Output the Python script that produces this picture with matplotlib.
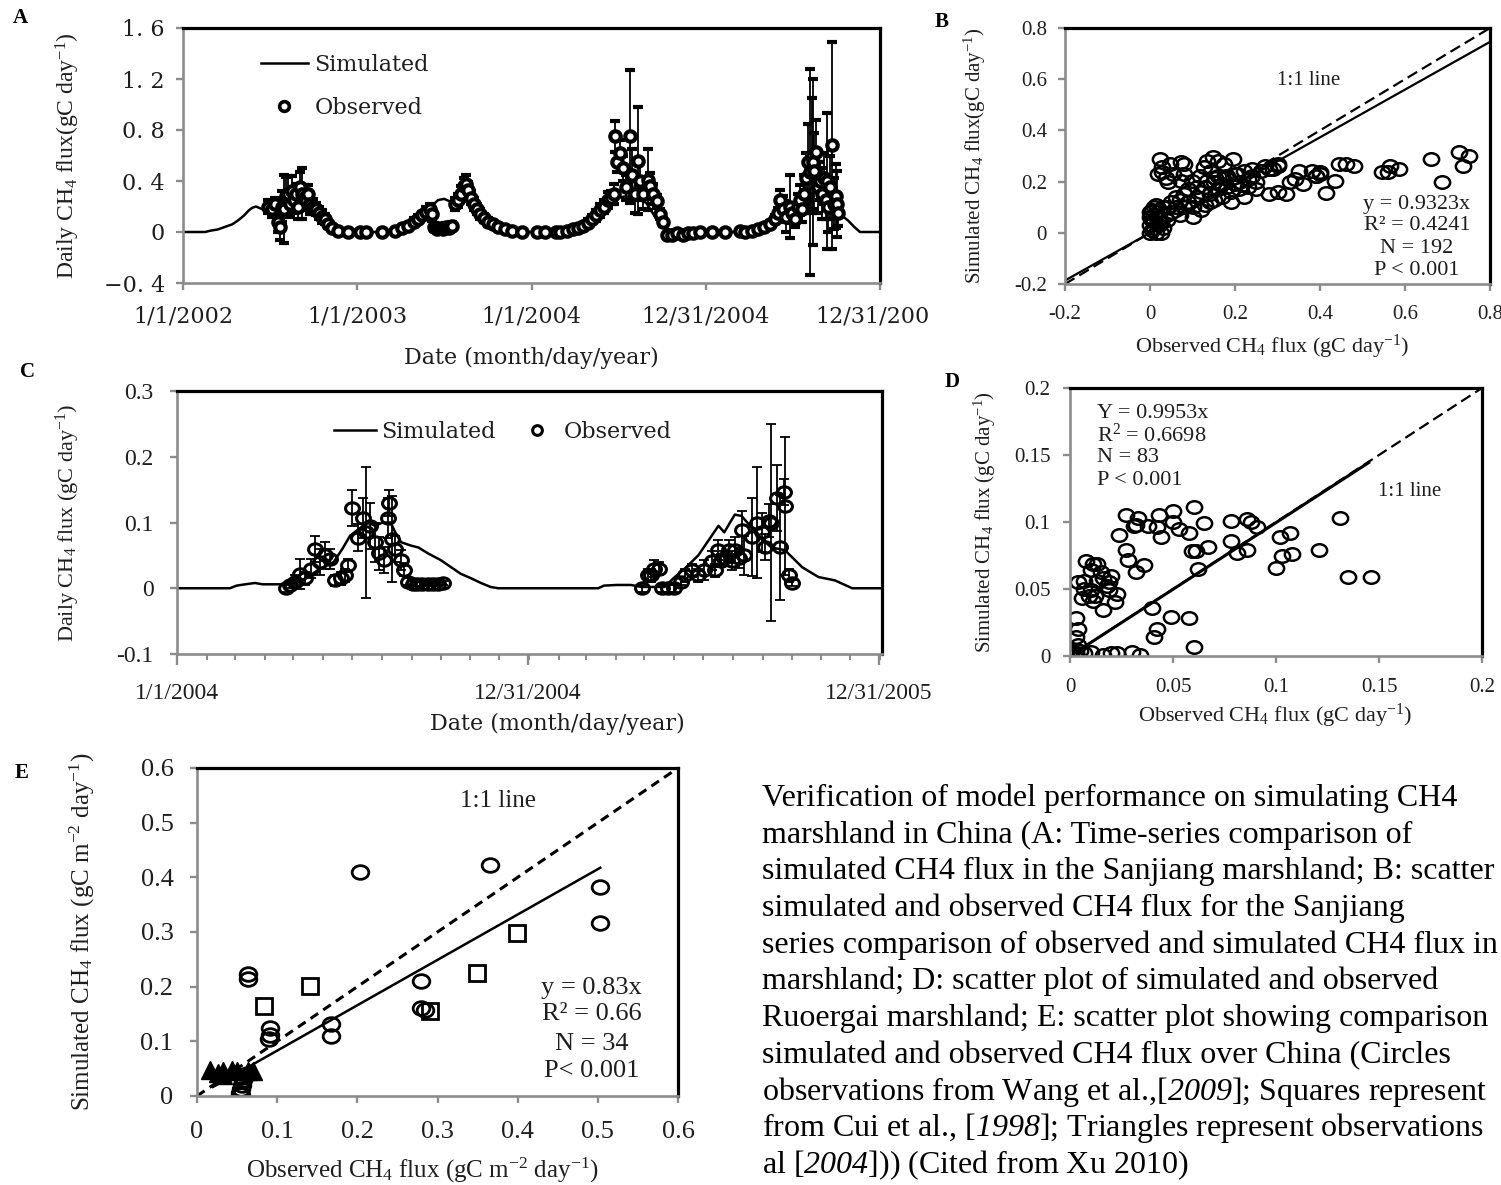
import numpy as np
import matplotlib
matplotlib.use("Agg")
import matplotlib.pyplot as plt
import matplotlib.dates as mdates
from matplotlib.lines import Line2D
from matplotlib.path import Path
from matplotlib.transforms import Bbox

plt.rcParams["font.family"] = "Liberation Serif"
plt.rcParams["mathtext.fontset"] = "custom"
plt.rcParams["mathtext.rm"] = "Liberation Serif"
plt.rcParams["mathtext.it"] = "Liberation Serif:italic"
plt.rcParams["mathtext.bf"] = "Liberation Serif:bold"
plt.rcParams["mathtext.sf"] = "Liberation Serif:italic"

# ---------------- data ----------------
# A: Sanjiang marshland, days since 2002-01-01
sim_a_day = [0, 46, 57, 73, 88, 103, 115, 128, 138, 145, 153, 165, 178, 193, 209, 224, 239, 251, 266, 279,
             291, 304, 314, 325,
             434, 450, 467, 484, 501, 513, 526, 534, 547, 559, 572, 584, 597, 610, 622, 635, 647, 664, 681, 698,
             790, 811, 827, 844, 861, 873, 886, 899, 911, 928, 945, 957, 970, 982, 995, 1008, 1020, 1049, 1062,
             1167, 1188, 1209, 1230, 1246, 1261, 1276, 1288, 1305, 1318, 1330, 1343, 1355, 1368, 1380, 1393,
             1406, 1418, 1460]
sim_a_val = [0, 0, 0.01, 0.02, 0.04, 0.06, 0.09, 0.13, 0.17, 0.19, 0.2, 0.18, 0.2, 0.22, 0.24, 0.26, 0.27, 0.26,
             0.22, 0.17, 0.11, 0.05, 0.02, 0.0,
             0, 0.02, 0.05, 0.09, 0.13, 0.17, 0.22, 0.25, 0.26, 0.24, 0.26, 0.28, 0.25, 0.2, 0.14, 0.1, 0.07,
             0.04, 0.02, 0.0,
             0, 0.01, 0.03, 0.06, 0.1, 0.15, 0.2, 0.25, 0.27, 0.28, 0.27, 0.25, 0.23, 0.16, 0.08, 0.03, 0.02,
             0.02, 0.0,
             0, 0.01, 0.03, 0.06, 0.1, 0.16, 0.22, 0.26, 0.3, 0.35, 0.3, 0.26, 0.22, 0.17, 0.13, 0.09, 0.04,
             0.0, 0.0]

obs_a_day = [178, 186, 193, 199, 203, 207, 212, 216, 220, 224, 228, 233, 237, 241, 245, 249, 253, 258, 262, 266,
             272, 279, 285, 291, 297, 304, 312, 325, 346, 371, 383, 417,
             444, 459, 471, 484, 492, 501, 509, 517, 522, 526, 532, 538, 545, 551, 557, 563, 570, 576, 582, 589,
             593, 597, 603, 610, 616, 622, 631, 639, 649, 660, 674, 689, 710, 742, 758, 781, 790,
             804, 817, 827, 838, 848, 857, 865, 873, 882, 890, 897, 903, 905, 909, 915, 922, 928, 936, 940, 947,
             953, 957, 964, 974, 978, 984, 993, 999, 1005, 1014, 1024, 1035, 1047, 1058, 1068, 1083, 1108, 1135,
             1167, 1177, 1192, 1204, 1217, 1230, 1240, 1246, 1251, 1257, 1263, 1271, 1276, 1282, 1288, 1292,
             1297, 1301, 1305, 1309, 1313, 1318, 1320, 1322, 1326, 1330, 1334, 1339, 1343, 1347, 1349, 1351,
             1355, 1360, 1364, 1368, 1370, 1372]
obs_a_val = [0.2, 0.18, 0.22, 0.08, 0.04, 0.2, 0.18, 0.28, 0.3, 0.22, 0.32, 0.25, 0.3, 0.2, 0.35, 0.3, 0.27,
             0.25, 0.3, 0.22, 0.2, 0.18, 0.15, 0.12, 0.1, 0.06, 0.03, 0.01, 0, 0, 0, 0,
             0.01, 0.03, 0.05, 0.08, 0.1, 0.13, 0.16, 0.18, 0.14, 0.04, 0.02, 0.03, 0.02, 0.04, 0.03, 0.05,
             0.22, 0.25, 0.3, 0.36, 0.38, 0.33, 0.27, 0.22, 0.18, 0.14, 0.11, 0.08, 0.06, 0.04, 0.02, 0.01,
             0, 0, 0, 0, 0,
             0.01, 0.02, 0.03, 0.05, 0.07, 0.1, 0.13, 0.17, 0.2, 0.25, 0.27, 0.3, 0.75, 0.55, 0.62, 0.5, 0.35,
             0.75, 0.45, 0.3, 0.56, 0.4, 0.3, 0.41, 0.36, 0.3, 0.24, 0.14, 0.08, -0.02, -0.02, -0.01, -0.02,
             -0.01, -0.01, 0, 0, 0,
             0.005, 0.0, 0.01, 0.02, 0.04, 0.06, 0.1, 0.15, 0.25, 0.18, 0.12, 0.2, 0.15, 0.1, 0.2, 0.25, 0.18,
             0.3, 0.42, 0.55, 0.47, 0.6, 0.55, 0.48, 0.63, 0.35, 0.4, 0.3, 0.42, 0.25, 0.4, 0.2, 0.35, 0.68,
             0.22, 0.28, 0.22, 0.15]
obs_a_err = [0.05, 0.06, 0.05, 0.08, 0.1, 0.12, 0.27, 0.15, 0.14, 0.1, 0.12, 0.1, 0.08, 0.1, 0.12, 0.2, 0.1,
             0.08, 0.07, 0.08, 0.06, 0.05, 0.05, 0.05, 0.04, 0.03, 0.02, 0.01, 0.01, 0.01, 0.01, 0.01,
             0.01, 0.02, 0.02, 0.03, 0.03, 0.03, 0.04, 0.04, 0.05, 0.03, 0.02, 0.02, 0.02, 0.03, 0.02, 0.03,
             0.05, 0.05, 0.06, 0.06, 0.07, 0.06, 0.05, 0.05, 0.04, 0.04, 0.03, 0.03, 0.02, 0.02, 0.01, 0.01,
             0.01, 0.01, 0.01, 0.01, 0.01,
             0.01, 0.01, 0.02, 0.02, 0.03, 0.03, 0.04, 0.05, 0.05, 0.06, 0.05, 0.08, 0.12, 0.08, 0.1, 0.1, 0.1,
             0.52, 0.2, 0.15, 0.42, 0.15, 0.12, 0.24, 0.1, 0.08, 0.05, 0.04, 0.03, 0.01, 0.01, 0.01, 0.01,
             0.01, 0.01, 0.01, 0.01, 0.01,
             0.01, 0.01, 0.01, 0.02, 0.02, 0.03, 0.03, 0.04, 0.08, 0.1, 0.12, 0.25, 0.08, 0.06, 0.1, 0.12, 0.1,
             0.15, 0.2, 0.3, 0.81, 0.45, 0.65, 0.3, 0.25, 0.2, 0.15, 0.2, 0.2, 0.15, 0.53, 0.2, 0.25, 0.81,
             0.2, 0.25, 0.26, 0.1]
a_tick_days = [0, 365, 730, 1095, 1460]
a_tick_labels = ["1/1/2002", "1/1/2003", "1/1/2004", "12/31/2004", "12/31/2005"]
a_y_ticks = [-0.4, 0, 0.4, 0.8, 1.2, 1.6]
a_y_labels = ["\u22120. 4", "0", "0. 4", "0. 8", "1. 2", "1. 6"]

# B: Sanjiang scatter
obs_b = [0.024, 0.046, 0.073, 0.081, 0.028, 0.019, 0.037, 0.055, 0.081, 0.042, 0.073, 0.028, 0.135, 0.148,
         0.161, 0.174, 0.126, 0.143, 0.117, 0.135, 0.099, 0.196, 0.205, 0.179, 0.152,
         0.0, 0.005, 0.01, 0.0, 0.005, 0.01, 0.0, 0.005, 0.01, 0.015, 0.02, 0.025, 0.015, 0.025, 0.03, 0.0,
         0.02, 0.03, 0.01, 0.02,
         0.04, 0.05, 0.05, 0.06, 0.07, 0.08, 0.08, 0.09, 0.1, 0.1, 0.11, 0.12, 0.12, 0.13, 0.14, 0.14, 0.15,
         0.16, 0.17, 0.17, 0.18, 0.19, 0.19, 0.2, 0.2, 0.21, 0.21, 0.22, 0.22, 0.23, 0.23, 0.24, 0.24, 0.25,
         0.26, 0.27, 0.28, 0.29, 0.3, 0.28, 0.3, 0.32, 0.3, 0.33, 0.34, 0.35, 0.36, 0.39, 0.4, 0.38, 0.06,
         0.09, 0.11, 0.16, 0.13, 0.15, 0.18, 0.25, 0.07, 0.04,
         0.444, 0.435, 0.413, 0.462, 0.48, 0.546, 0.564, 0.586, 0.661, 0.688, 0.727, 0.736, 0.75, 0.56,
         0.391, 0.4]
sim_b = [0.288, 0.269, 0.275, 0.269, 0.236, 0.229, 0.216, 0.229, 0.229, 0.197, 0.203, 0.256, 0.282, 0.295,
         0.282, 0.269, 0.256, 0.242, 0.223, 0.203, 0.203, 0.288, 0.229, 0.216, 0.216,
         0.0, 0.01, 0.02, 0.03, 0.05, 0.07, 0.08, 0.09, 0.1, 0.11, 0.06, 0.04, 0.0, 0.0, 0.02, 0.06, 0.09,
         0.1, 0.045, 0.03,
         0.05, 0.08, 0.12, 0.1, 0.13, 0.1, 0.15, 0.12, 0.06, 0.1, 0.14, 0.16, 0.09, 0.18, 0.12, 0.15, 0.2,
         0.17, 0.14, 0.19, 0.22, 0.16, 0.12, 0.19, 0.23, 0.2, 0.17, 0.24, 0.14, 0.21, 0.18, 0.22, 0.25, 0.2,
         0.24, 0.26, 0.25, 0.25, 0.26, 0.15, 0.16, 0.15, 0.27, 0.2, 0.21, 0.24, 0.19, 0.22, 0.23, 0.24, 0.14,
         0.17, 0.18, 0.22, 0.11, 0.13, 0.18, 0.17, 0.07, 0.1,
         0.269, 0.203, 0.157, 0.269, 0.262, 0.236, 0.262, 0.249, 0.288, 0.197, 0.315, 0.262, 0.301, 0.236,
         0.223, 0.236]
slope_b = 0.9323

# C: Ruoergai marshland, days since 2004-01-01
sim_c_day = [0, 55, 62, 71, 81, 89, 107, 118, 128, 139, 149, 163, 172, 180, 189, 198, 206, 214, 222, 227,
             233, 243, 251, 261, 274, 285, 295, 306, 316, 326, 334, 438, 444, 457, 472, 483, 507, 516, 528, 542,
             556, 563, 569, 575, 580, 587, 597, 608, 618, 632, 641, 650, 667, 684, 699, 702, 731]
sim_c_val = [0, 0, 0.004, 0.006, 0.008, 0.006, 0.006, 0.006, 0.01, 0.02, 0.03, 0.04, 0.06, 0.08, 0.09, 0.1,
             0.095, 0.1, 0.1, 0.085, 0.07, 0.065, 0.062, 0.053, 0.043, 0.032, 0.022, 0.015, 0.008, 0.002, 0,
             0, 0.004, 0.005, 0.005, 0.002, 0.002, 0.015, 0.03, 0.05, 0.08, 0.095, 0.085, 0.1, 0.112, 0.11,
             0.093, 0.075, 0.062, 0.058, 0.045, 0.032, 0.017, 0.012, 0.002, 0, 0]
obs_c_day = [113, 118, 123, 128, 133, 139, 144, 149, 154, 159, 164, 170, 175, 178, 182, 188, 193, 196, 201,
             206, 210, 215, 219, 220, 224, 227, 233, 236, 240, 245, 250, 255, 261, 266, 271, 277,
             483, 490, 493, 496, 501, 504, 511, 517, 524, 528, 535, 542, 548, 556, 559, 563, 566, 569, 574,
             577, 580, 584, 587, 590, 598, 603, 608, 611, 616, 618, 624, 627, 631, 632, 636, 639]
obs_c_val = [0.0, 0.005, 0.01, 0.022, 0.015, 0.03, 0.06, 0.04, 0.05, 0.045, 0.012, 0.015, 0.02, 0.035, 0.122,
             0.077, 0.107, 0.085, 0.095, 0.07, 0.053, 0.043, 0.107, 0.13, 0.075, 0.06, 0.043, 0.028, 0.01,
             0.007, 0.007, 0.006, 0.007, 0.006, 0.007, 0.008,
             0.0, 0.02, 0.02, 0.03, 0.03, 0.0, 0.0, 0.0, 0.01, 0.02, 0.027, 0.02, 0.028, 0.042, 0.027, 0.058,
             0.042, 0.046, 0.058, 0.042, 0.058, 0.046, 0.088, 0.05, 0.078, 0.1, 0.085, 0.063, 0.103, 0.1,
             0.137, 0.062, 0.146, 0.125, 0.02, 0.008]
obs_c_err = [0.005, 0.005, 0.01, 0.023, 0.01, 0.015, 0.02, 0.02, 0.02, 0.015, 0.008, 0.01, 0.01, 0.01, 0.027,
             0.02, 0.03, 0.1, 0.035, 0.03, 0.025, 0.02, 0.03, 0.02, 0.065, 0.02, 0.015, 0.01, 0.005, 0.004,
             0.003, 0.003, 0.003, 0.003, 0.003, 0.003,
             0.005, 0.01, 0.01, 0.013, 0.01, 0.005, 0.005, 0.005, 0.005, 0.01, 0.01, 0.01, 0.015, 0.015, 0.01,
             0.015, 0.01, 0.01, 0.015, 0.015, 0.02, 0.015, 0.03, 0.03, 0.06, 0.085, 0.03, 0.02, 0.025, 0.15,
             0.05, 0.08, 0.02, 0.105, 0.01, 0.005]
c_tick_days = [0, 365, 730]
c_tick_labels = ["1/1/2004", "12/31/2004", "12/31/2005"]

# D: Ruoergai scatter
obs_d = [0.027, 0.032, 0.038, 0.043, 0.042, 0.05, 0.05, 0.053, 0.058, 0.06, 0.059, 0.061, 0.065, 0.067,
         0.078, 0.078, 0.081, 0.086, 0.088, 0.091, 0.086, 0.1, 0.103, 0.102, 0.107, 0.108, 0.121, 0.131,
         0.135, 0.146, 0.024, 0.027, 0.028, 0.032, 0.036, 0.015, 0.019, 0.023, 0.019, 0.016, 0.013, 0.01,
         0.008, 0.011, 0.007, 0.004, 0.006, 0.011, 0.016, 0.003, 0.004, 0.003, 0.009, 0.01, 0.044, 0.04,
         0.041, 0.042, 0.049, 0.058, 0.06, 0.001, 0.003, 0.005, 0.007, 0.01, 0.016, 0.02, 0.023, 0.03,
         0.034, 0.002, 0.0, 0.013, 0.018, 0.012, 0.031, 0.02, 0.007, 0.033, 0.022, 0.004, 0.062]
sim_d = [0.105, 0.098, 0.097, 0.105, 0.096, 0.108, 0.1, 0.095, 0.092, 0.111, 0.078, 0.078, 0.099, 0.081,
         0.101, 0.086, 0.077, 0.102, 0.1, 0.096, 0.079, 0.066, 0.075, 0.089, 0.092, 0.076, 0.079, 0.103,
         0.059, 0.059, 0.09, 0.079, 0.072, 0.063, 0.068, 0.063, 0.055, 0.046, 0.049, 0.058, 0.056, 0.049,
         0.071, 0.069, 0.056, 0.055, 0.043, 0.041, 0.034, 0.028, 0.02, 0.014, 0.045, 0.064, 0.089, 0.036,
         0.014, 0.02, 0.029, 0.028, 0.007, 0.004, 0.002, 0.004, 0.002, 0.003, 0.001, 0.002, 0.002, 0.003,
         0.001, 0.001, 0.003, 0.069, 0.052, 0.045, 0.097, 0.06, 0.05, 0.103, 0.04, 0.008, 0.065]
slope_d = 0.9953

# E: China sites
wang_obs = [0.064, 0.064, 0.091, 0.091, 0.167, 0.167, 0.203, 0.28, 0.28, 0.365, 0.503, 0.503, 0.056, 0.056,
            0.055, 0.054, 0.055, 0.058, 0.062, 0.09, 0.285]
wang_sim = [0.224, 0.214, 0.124, 0.112, 0.132, 0.11, 0.409, 0.211, 0.161, 0.422, 0.382, 0.317, 0.035, 0.02,
            0.012, 0.006, 0.002, 0.03, 0.04, 0.105, 0.158]
cui_obs = [0.084, 0.141, 0.291, 0.349, 0.399]
cui_sim = [0.164, 0.201, 0.156, 0.225, 0.298]
ding_obs = [0.016, 0.026, 0.033, 0.044, 0.05, 0.064, 0.07, 0.033]
ding_sim = [0.048, 0.042, 0.045, 0.048, 0.045, 0.046, 0.045, 0.038]
slope_e = 0.83

caption_lines = [
    "Verification of model performance on simulating CH4",
    "marshland in China (A: Time-series comparison of",
    "simulated CH4 flux in the Sanjiang marshland; B: scatter",
    "simulated and observed CH4 flux for the Sanjiang",
    "series comparison of observed and simulated CH4 flux in",
    "marshland; D: scatter plot of simulated and observed",
    "Ruoergai marshland; E: scatter plot showing comparison",
    "simulated and observed CH4 flux over China (Circles",
    r"observations from Wang et al.,[$\mathsf{2009}$]; Squares represent",
    r"from Cui et al., [$\mathsf{1998}$]; Triangles represent observations",
    r"al [$\mathsf{2004}$])) (Cited from Xu 2010)",
]

# ---------------- layout helpers ----------------
W, H = 1501, 1185
fig = plt.figure(figsize=(W / 100, H / 100), dpi=100)
GRAY = "#8c8c8c"
TXT = "#1e1e1e"
WIDE = "DejaVu Serif"


def rect(left, right, top, bottom):
    return [left / W, 1 - bottom / H, (right - left) / W, (bottom - top) / H]


def style(ax, size, xpad, ypad, family=None):
    for s in ("left", "bottom"):
        ax.spines[s].set_color(GRAY)
        ax.spines[s].set_linewidth(1.9)
    for s in ("top", "right"):
        ax.spines[s].set_color("black")
        ax.spines[s].set_linewidth(2.3)
    ax.tick_params(which="major", direction="out", length=5, width=1.7, color=GRAY,
                   labelsize=size, labelcolor=TXT)
    ax.tick_params(axis="x", pad=xpad)
    ax.tick_params(axis="y", pad=ypad)
    if family:
        for lb in ax.get_xticklabels() + ax.get_yticklabels():
            lb.set_family(family)


circ = Path.unit_circle()
wide_circle = Path(circ.vertices * np.array([1.22, 1.0]), circ.codes)

# ---------------- A ----------------
base_a = np.datetime64("2002-01-01")
axA = fig.add_axes(rect(183, 880, 28, 283))
dA = base_a + np.array(sim_a_day, dtype="timedelta64[D]")
axA.plot(dA, sim_a_val, color="black", lw=1.8, zorder=2)
dAo = base_a + np.array(obs_a_day, dtype="timedelta64[D]")
axA.errorbar(dAo, obs_a_val, yerr=obs_a_err, fmt="o", ms=7.5, mfc="white", mec="black", mew=3.0,
             ecolor="black", elinewidth=1.3, capsize=3.5, capthick=1.3, zorder=3)
axA.set_xlim(base_a, base_a + np.timedelta64(1460, "D"))
axA.set_ylim(-0.4, 1.6)
axA.set_xticks(base_a + np.array(a_tick_days, dtype="timedelta64[D]"))
axA.set_xticklabels(a_tick_labels)
axA.set_yticks(a_y_ticks)
axA.set_yticklabels(a_y_labels)
style(axA, 16, 11, 8, family=WIDE)
axA.set_ylabel(r"Daily CH$_4$ flux(gC day$^{\mathrm{-1}}$)", fontsize=17, color=TXT)
axA.yaxis.set_label_coords(-0.165, 0.5)
axA.yaxis.label.set_va("center")
axA.set_xlabel("Date (month/day/year)", fontsize=16, family=WIDE, color=TXT)
axA.xaxis.set_label_coords(0.5, -0.294)
axA.xaxis.label.set_va("center")
hA = [Line2D([], [], color="black", lw=1.8),
      Line2D([], [], ls="none", marker="o", ms=7, mfc="white", mec="black", mew=2.6)]
axA.legend(hA, ["Simulated", "Observed"], loc="upper left", bbox_to_anchor=(0.112, 0.898), frameon=False,
           prop={"family": WIDE, "size": 16}, handlelength=2.1, handletextpad=0.3, labelspacing=0.95,
           borderaxespad=0, borderpad=0, labelcolor=TXT)
last = axA.get_xticklabels()[-1]
last.set_clip_on(True)
last.set_clip_box(Bbox.from_extents(0, 0, 930, H))

# ---------------- B ----------------
axB = fig.add_axes(rect(1065, 1490, 28, 284))
lineB = np.array([-0.2, 0.8])
axB.plot(lineB, lineB, color="black", lw=1.6, ls=(0, (5, 2.5)))
axB.plot(lineB, slope_b * lineB, color="black", lw=1.6)
axB.plot(obs_b, sim_b, ls="none", marker=wide_circle, ms=11, mfc="none", mec="black", mew=1.8)
axB.set_xlim(-0.2, 0.8)
axB.set_ylim(-0.2, 0.8)
axB.set_xticks([-0.2, 0, 0.2, 0.4, 0.6, 0.8])
axB.set_xticklabels(["-0.2", "0", "0.2", "0.4", "0.6", "0.8"])
axB.set_yticks([-0.2, 0, 0.2, 0.4, 0.6, 0.8])
axB.set_yticklabels(["-0.2", "0", "0.2", "0.4", "0.6", "0.8"])
style(axB, 15, 10, 8)
axB.set_ylabel(r"Simulated CH$_4$ flux(gC day$^{\mathrm{-1}}$)", fontsize=15, color=TXT)
axB.yaxis.set_label_coords(-0.212, 0.5)
axB.yaxis.label.set_va("center")
axB.set_xlabel(r"Observed CH$_4$ flux (gC day$^{\mathrm{-1}}$)", fontsize=16, color=TXT)
axB.xaxis.set_label_coords(0.487, -0.246)
axB.xaxis.label.set_va("center")
axB.text(0.373, 0.596, "1:1 line", ha="center", va="center", fontsize=15, color=TXT)
for txt, yv in zip(["y = 0.9323x", "R\u00b2 = 0.4241", "N = 192", "P < 0.001"], [0.11, 0.027, -0.062, -0.146]):
    axB.text(0.628, yv, txt, ha="center", va="center", fontsize=16, color=TXT)

# ---------------- C ----------------
base_c = np.datetime64("2004-01-01")
axC = fig.add_axes(rect(177, 882, 391, 654))
dC = base_c + np.array(sim_c_day, dtype="timedelta64[D]")
axC.plot(dC, sim_c_val, color="black", lw=1.8, zorder=2)
dCo = base_c + np.array(obs_c_day, dtype="timedelta64[D]")
axC.errorbar(dCo, obs_c_val, yerr=obs_c_err, fmt="none", ecolor="black", elinewidth=1.3, capsize=3.5,
             capthick=1.3, zorder=3)
axC.plot(dCo, obs_c_val, ls="none", marker=wide_circle, ms=10, mfc="none", mec="black", mew=2.2, zorder=4)
axC.set_xlim(base_c, base_c + np.timedelta64(733, "D"))
axC.set_ylim(-0.1, 0.3)
axC.set_xticks(base_c + np.array(c_tick_days, dtype="timedelta64[D]"))
axC.set_xticklabels(c_tick_labels)
axC.xaxis.set_minor_locator(mdates.MonthLocator())
axC.set_yticks([-0.1, 0, 0.1, 0.2, 0.3])
axC.set_yticklabels(["-0.1", "0", "0.1", "0.2", "0.3"])
style(axC, 17, 13, 12)
axC.tick_params(axis="x", which="major", length=8)
axC.tick_params(axis="x", which="minor", direction="out", length=4, width=1.5, color=GRAY)
axC.set_ylabel(r"Daily CH$_4$ flux (gC day$^{\mathrm{-1}}$)", fontsize=16, color=TXT)
axC.yaxis.set_label_coords(-0.155, 0.5)
axC.yaxis.label.set_va("center")
axC.set_xlabel("Date (month/day/year)", fontsize=16, family=WIDE, color=TXT)
axC.xaxis.set_label_coords(0.539, -0.265)
axC.xaxis.label.set_va("center")
hC = [Line2D([], [], color="black", lw=1.8),
      Line2D([], [], ls="none", marker="o", ms=7, mfc="white", mec="black", mew=2.2)]
axC.legend(hC, ["Simulated", "Observed"], loc="upper left", bbox_to_anchor=(0.222, 0.885), ncol=2,
           frameon=False, prop={"family": WIDE, "size": 16}, handlelength=1.9, handletextpad=0.25,
           columnspacing=0.9, borderaxespad=0, borderpad=0, labelcolor=TXT)

# ---------------- D ----------------
axD = fig.add_axes(rect(1070, 1482, 388, 656))
axD.plot([0, 0.2], [0, 0.2], color="black", lw=1.6, ls=(0, (5, 2.5)))
lineD = np.array([0.003, 0.145])
axD.plot(lineD, slope_d * lineD, color="black", lw=2.2)
axD.plot(obs_d, sim_d, ls="none", marker=wide_circle, ms=11, mfc="none", mec="black", mew=1.8)
axD.set_xlim(0, 0.2)
axD.set_ylim(0, 0.2)
axD.set_xticks([0, 0.05, 0.1, 0.15, 0.2])
axD.set_xticklabels(["0", "0.05", "0.1", "0.15", "0.2"])
axD.set_yticks([0, 0.05, 0.1, 0.15, 0.2])
axD.set_yticklabels(["0", "0.05", "0.1", "0.15", "0.2"])
style(axD, 15, 11, 9)
axD.set_ylabel(r"Simulated CH$_4$ flux (gC day$^{\mathrm{-1}}$)", fontsize=15, color=TXT)
axD.yaxis.set_label_coords(-0.206, 0.5)
axD.yaxis.label.set_va("center")
axD.set_xlabel(r"Observed CH$_4$ flux (gC day$^{\mathrm{-1}}$)", fontsize=16, color=TXT)
axD.xaxis.set_label_coords(0.498, -0.224)
axD.xaxis.label.set_va("center")
axD.text(0.165, 0.123, "1:1 line", ha="center", va="center", fontsize=15, color=TXT)
for txt, yv in zip(["Y = 0.9953x", r"R$^2$ = 0.6698", "N = 83", "P < 0.001"], [0.181, 0.165, 0.148, 0.131]):
    axD.text(0.013, yv, txt, ha="left", va="center", fontsize=16, color=TXT)

# ---------------- E ----------------
axE = fig.add_axes(rect(197, 678, 768, 1096))
axE.plot([0, 0.6], [0, 0.6], color="black", lw=2.2, ls=(0, (3, 2)))
lineE = np.array([0.02, 0.503])
axE.plot(lineE, slope_e * lineE, color="black", lw=1.8)
axE.plot(wang_obs, wang_sim, ls="none", marker=wide_circle, ms=12, mfc="none", mec="black", mew=2.0)
axE.plot(cui_obs, cui_sim, ls="none", marker="s", ms=11, mfc="none", mec="black", mew=2.0)
axE.plot(ding_obs, ding_sim, ls="none", marker="^", ms=13, mfc="black", mec="black", mew=1.0)
axE.set_xlim(0, 0.6)
axE.set_ylim(0, 0.6)
axE.set_xticks([0, 0.1, 0.2, 0.3, 0.4, 0.5, 0.6])
axE.set_xticklabels(["0", "0.1", "0.2", "0.3", "0.4", "0.5", "0.6"])
axE.set_yticks([0, 0.1, 0.2, 0.3, 0.4, 0.5, 0.6])
axE.set_yticklabels(["0", "0.1", "0.2", "0.3", "0.4", "0.5", "0.6"])
style(axE, 19, 13, 12)
axE.set_ylabel(r"Simulated CH$_4$ flux (gC m$^{\mathrm{-2}}$ day$^{\mathrm{-1}}$)", fontsize=18, color=TXT)
axE.yaxis.set_label_coords(-0.239, 0.5)
axE.yaxis.label.set_va("center")
axE.set_xlabel(r"Observed CH$_4$ flux (gC m$^{\mathrm{-2}}$ day$^{\mathrm{-1}}$)", fontsize=18, color=TXT)
axE.xaxis.set_label_coords(0.468, -0.226)
axE.xaxis.label.set_va("center")
axE.text(0.376, 0.539, "1:1 line", ha="center", va="center", fontsize=18, color=TXT)
for txt, yv in zip(["y = 0.83x", "R\u00b2 = 0.66", "N = 34", "P< 0.001"], [0.197, 0.15, 0.096, 0.045]):
    axE.text(0.492, yv, txt, ha="center", va="center", fontsize=19, color=TXT)

# ---------------- panel letters ----------------
for letter, (px, py) in zip("ABCDE", [(20, 18), (942, 22), (28, 372), (952, 382), (22, 773)]):
    fig.text(px / W, 1 - py / H, letter, ha="center", va="center", fontsize=15, fontweight="bold",
             color="black")

# ---------------- caption ----------------
for i, line in enumerate(caption_lines):
    fig.text(762 / W, 1 - (806 + 36.7 * i) / H, line, ha="left", va="baseline", fontsize=23,
             color="black")

fig.savefig("out.png", dpi=100)
